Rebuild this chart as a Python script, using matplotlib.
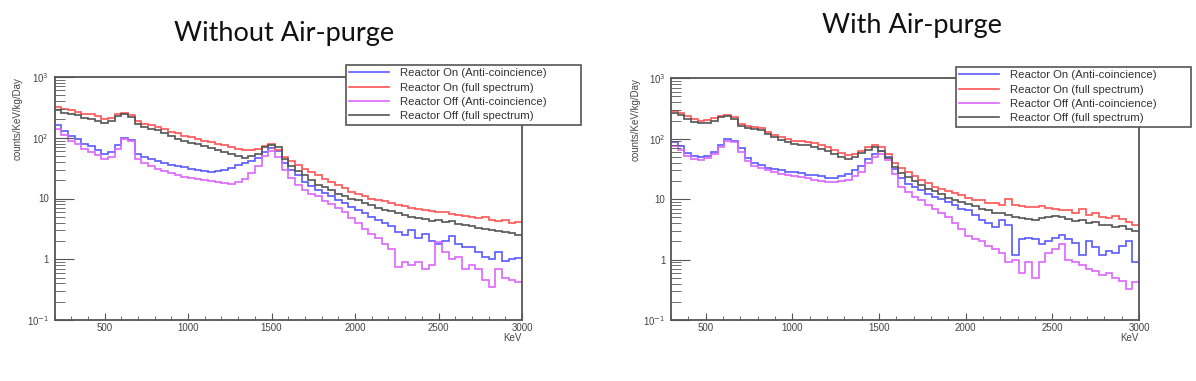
import numpy as np
import matplotlib
matplotlib.use("Agg")
import matplotlib.pyplot as plt
from matplotlib.ticker import LogLocator, FixedLocator, NullFormatter

plt.rcParams['font.family'] = ['Liberation Sans', 'DejaVu Sans']

# energy binning (keV) of the two spectra
left_edges = np.linspace(200, 3000, 71)
right_edges = np.linspace(300, 3000, 71)

labels = ["Reactor On (Anti-coincience)", "Reactor On (full spectrum)",
          "Reactor Off (Anti-coincience)", "Reactor Off (full spectrum)"]
colors = ["#5a5aff", "#ff5555", "#dd66ff", "#555555"]
titles = ["Without Air-purge", "With Air-purge"]

# --- without air-purge (counts/KeV/kg/Day per bin) ---
wo_on_anti = [160, 130, 105, 95, 80, 72, 62, 55, 58, 75,
              100, 92, 55, 48, 44, 42, 38, 36, 34, 33,
              31, 30, 28, 27, 28, 30, 32, 36, 38, 42,
              46, 58, 68, 60, 38, 30, 24, 19, 16, 14,
              12.5, 11, 9.5, 8.5, 7.3, 6.5, 5.8, 5.0, 4.4, 3.9,
              3.5, 2.8, 2.5, 3.0, 2.2, 2.6, 2.0, 1.8, 2.0, 2.4,
              1.8, 1.6, 1.6, 1.3, 1.1, 1.0, 1.3, 0.95, 1.0, 1.05]
wo_on_full = [320, 300, 285, 270, 250, 245, 225, 205, 215, 245,
              260, 235, 190, 170, 160, 150, 140, 125, 118, 108,
              102, 96, 90, 86, 80, 75, 70, 66, 64, 62,
              66, 72, 78, 62, 48, 42, 36, 31, 27, 24,
              21, 19, 17, 15, 13, 12, 11, 10, 9.5, 9.0,
              8.3, 7.8, 7.5, 7.0, 6.8, 6.4, 6.2, 6.0, 5.9, 5.6,
              5.4, 5.2, 5.0, 4.8, 4.9, 4.5, 4.3, 4.4, 4.0, 4.1]
wo_off_anti = [140, 110, 90, 78, 65, 58, 52, 45, 48, 65,
               95, 88, 45, 38, 34, 31, 28, 26, 24, 23,
               22, 21, 20, 19.5, 19, 18, 17.5, 18.5, 21, 26,
               34, 50, 60, 48, 30, 22, 17, 14, 12, 11,
               9, 8, 7, 6, 4.8, 4.0, 3.2, 2.6, 2.2, 1.8,
               1.5, 0.75, 0.9, 0.8, 0.9, 0.7, 0.8, 1.9, 1.3, 1.0,
               1.1, 0.7, 0.8, 0.7, 0.45, 0.35, 0.7, 0.5, 0.45, 0.43]
wo_off_full = [285, 260, 250, 240, 215, 200, 190, 175, 190, 225,
               250, 220, 170, 150, 140, 135, 118, 105, 95, 88,
               82, 78, 72, 68, 62, 58, 55, 50, 46, 50,
               55, 70, 75, 70, 45, 34, 28, 24, 20, 17,
               15.5, 14, 12, 11, 10, 9.3, 8.5, 7.8, 7.0, 6.5,
               6.2, 5.8, 5.3, 5.0, 4.8, 4.6, 4.3, 4.4, 4.1, 4.2,
               3.8, 3.6, 3.5, 3.3, 3.2, 3.0, 2.9, 2.8, 2.7, 2.5]

# --- with air-purge ---
w_on_anti = [88, 75, 58, 52, 50, 52, 60, 80, 98, 92,
             70, 48, 40, 37, 33, 32, 30, 28, 28, 27,
             25, 25, 24, 22, 22, 24, 26, 30, 36, 46,
             56, 62, 50, 32, 22, 18, 16, 14, 12, 11,
             10, 9, 8, 7, 6.7, 5.5, 4.5, 4.0, 3.5, 4.5,
             3.8, 1.2, 2.2, 2.3, 2.2, 1.8, 2.0, 2.3, 2.6, 2.2,
             1.9, 1.2, 2.0, 1.6, 1.2, 1.4, 1.3, 1.7, 2.0, 0.9]
w_on_full = [290, 270, 240, 215, 200, 205, 220, 240, 245, 225,
             175, 165, 155, 150, 130, 115, 105, 98, 92, 90,
             88, 85, 80, 72, 66, 58, 54, 56, 62, 72,
             78, 72, 55, 40, 33, 28, 24, 21, 18.5, 16,
             14.5, 13.5, 12.7, 11.5, 10.5, 9.8, 9.5, 8.7, 8.5, 8.0,
             10, 8, 7.7, 7.5, 7.3, 7.8, 7.2, 6.8, 6.5, 6.5,
             6.0, 6.8, 5.5, 6.0, 5.0, 4.8, 5.2, 4.7, 4.2, 3.8]
w_off_anti = [75, 65, 52, 46, 45, 48, 55, 72, 92, 88,
              60, 42, 35, 33, 30, 28, 26, 25, 24, 23,
              22, 21, 20, 19, 19, 20, 21, 24, 28, 40,
              50, 55, 45, 26, 16, 13, 11, 9.5, 8.0, 7.0,
              6.0, 5.0, 4.0, 3.2, 2.5, 2.2, 2.0, 1.7, 1.5, 1.3,
              0.9, 1.0, 0.6, 0.9, 0.5, 0.9, 1.3, 1.5, 1.8, 1.0,
              0.9, 0.8, 0.7, 0.65, 0.55, 0.6, 0.5, 0.45, 0.33, 0.42]
w_off_full = [265, 245, 215, 190, 180, 185, 200, 225, 235, 215,
              165, 150, 145, 140, 120, 105, 95, 88, 82, 80,
              78, 72, 68, 62, 56, 50, 47, 50, 58, 66,
              72, 62, 48, 34, 27, 23, 20, 17, 15, 13.5,
              12, 10.5, 9.8, 9.0, 8.3, 7.6, 7.0, 6.5, 6.0, 5.8,
              5.5, 5.0, 4.8, 4.7, 4.6, 4.8, 5.0, 5.3, 5.0, 4.7,
              4.3, 4.5, 4.0, 4.2, 3.7, 3.8, 3.5, 3.6, 3.2, 3.0]

W, H = 1196, 381
fig = plt.figure(figsize=(W / 100, H / 100), dpi=100)


def px(x0, y0, x1, y1):
    """pixel box (top-left origin) -> figure fraction rect"""
    return [x0 / W, 1 - y1 / H, (x1 - x0) / W, (y1 - y0) / H]


def draw_panel(rect, edges, series, xmin, legend_box, title, title_xy, ylab_x):
    ax = fig.add_axes(px(*rect))
    for vals, c, lab in zip(series, colors, labels):
        ax.stairs(vals, edges, color=c, lw=1.2, label=lab, baseline=None)
    ax.set_yscale("log")
    ax.set_xlim(xmin, 3000)
    ax.set_ylim(0.1, 1000)

    ax.xaxis.set_major_locator(FixedLocator([500, 1000, 1500, 2000, 2500, 3000]))
    ax.xaxis.set_minor_locator(FixedLocator(np.arange(xmin, 3001, 100)))
    ax.yaxis.set_major_locator(FixedLocator([0.1, 1, 10, 100, 1000]))
    ax.yaxis.set_major_formatter(plt.FuncFormatter(
        lambda v, p: {0.1: "10$^{-1}$", 1: "1", 10: "10", 100: "10$^{2}$", 1000: "10$^{3}$"}.get(round(v, 1), "")))
    ax.yaxis.set_minor_locator(LogLocator(base=10, subs=np.arange(2, 10)))
    ax.yaxis.set_minor_formatter(NullFormatter())

    ax.tick_params(which="both", direction="in", color="#555555", labelcolor="#444444",
                   labelsize=7, top=False, right=False)
    ax.tick_params(axis="y", which="major", length=14, pad=4)
    ax.tick_params(axis="y", which="minor", length=7)
    ax.tick_params(axis="x", which="major", length=5, pad=2)
    ax.tick_params(axis="x", which="minor", length=3)
    for s in ax.spines.values():
        s.set_color("#555555")
        s.set_linewidth(1.3)

    ax.set_ylabel("counts/KeV/kg/Day", fontsize=7, color="#444444", loc="top")
    ax.yaxis.set_label_coords(ylab_x, 1.0)
    ax.set_xlabel("KeV", fontsize=7, color="#444444", loc="right", labelpad=0)

    leg = ax.legend(loc="upper left", bbox_to_anchor=px(*legend_box),
                    bbox_transform=fig.transFigure, mode="expand", borderaxespad=0,
                    fontsize=8.2, handlelength=3.5, handletextpad=0.9,
                    labelspacing=0.38, borderpad=0.3, fancybox=False,
                    framealpha=1, edgecolor="#555555")
    leg.get_frame().set_linewidth(1.2)
    for t in leg.get_texts():
        t.set_color("#333333")

    fig.text(title_xy[0] / W, 1 - title_xy[1] / H, title, ha="center", va="baseline",
             fontsize=19.5, family=["Lato", "DejaVu Sans"], color="#111111")
    return ax


draw_panel((54.5, 77, 522, 320), left_edges,
           [wo_on_anti, wo_on_full, wo_off_anti, wo_off_full], 200,
           (346, 65, 581, 126), titles[0], (284, 40.5), -0.068)
draw_panel((671, 78.3, 1139, 320), right_edges,
           [w_on_anti, w_on_full, w_off_anti, w_off_full], 300,
           (956, 67, 1191, 128), titles[1], (912, 33), -0.065)

fig.savefig("out.png", dpi=100)
